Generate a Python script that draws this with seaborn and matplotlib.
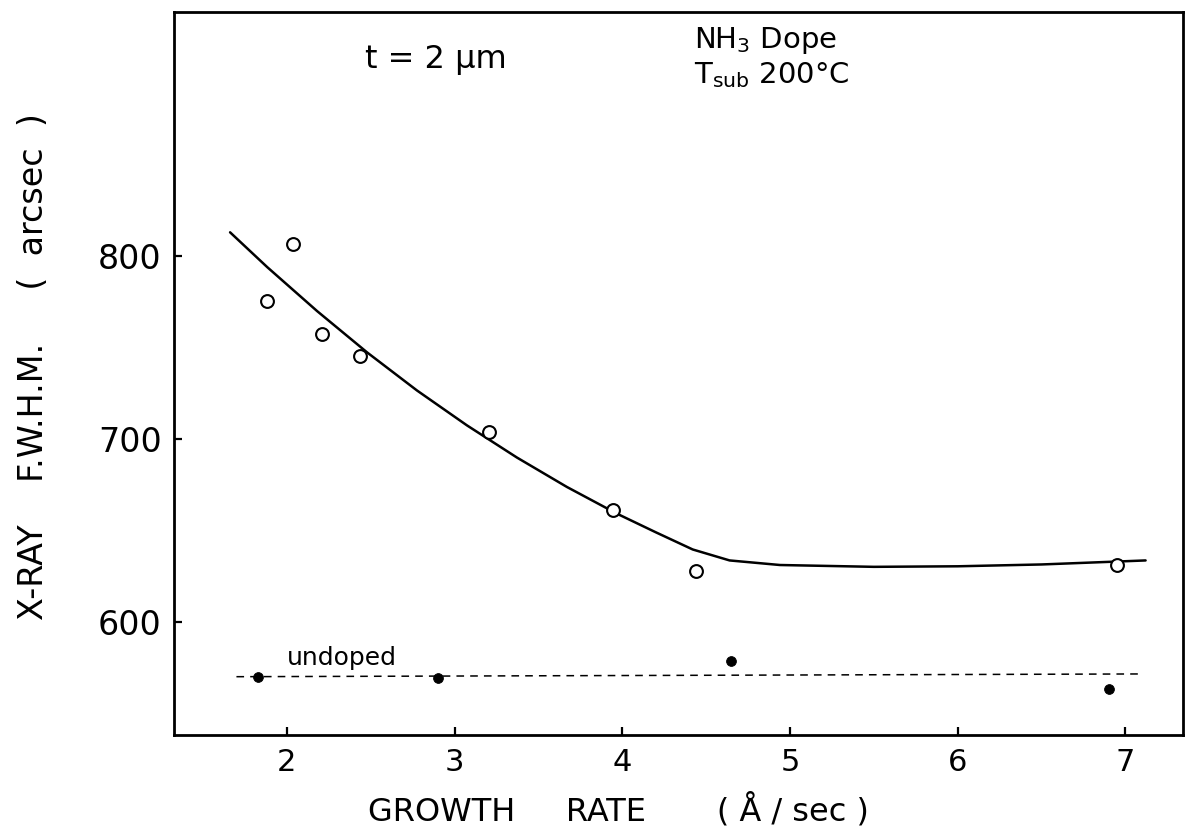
import matplotlib
matplotlib.use("Agg")
import matplotlib.pyplot as plt
import seaborn as sns
import pandas as pd

# NH3-doped films: X-ray rocking-curve FWHM vs growth rate
doped_rate = [1.884, 2.039, 2.209, 2.437, 3.207, 3.946, 4.437, 6.95]
doped_fwhm = [775.6, 806.5, 757.4, 745.5, 703.6, 661.1, 627.7, 631.0]

# hand-drawn trend curve through the doped data
trend_rate = [1.662, 1.883, 2.181, 2.479, 2.776, 3.074, 3.372, 3.670,
              3.968, 4.200, 4.420, 4.640, 4.940, 5.5, 6.0, 6.5, 7.12]
trend_fwhm = [813.0, 794.0, 769.9, 747.3, 726.5, 707.4, 689.8, 673.7,
              659.1, 648.9, 639.5, 633.5, 631.0, 630.0, 630.3, 631.3, 633.5]

# undoped reference films
undoped_rate = [1.831, 2.904, 4.650, 6.902]
undoped_fwhm = [569.9, 569.0, 578.5, 563.2]
undoped_level_rate = [1.70, 7.08]
undoped_level_fwhm = [569.9, 571.4]

x_ticks = [2, 3, 4, 5, 6, 7]
y_ticks = [600, 700, 800]

sns.set_theme(style="white")
plt.rcParams["font.family"] = ["DejaVu Sans"]
plt.rcParams["mathtext.default"] = "regular"

fig = plt.figure(figsize=(11.88, 8.36), dpi=100)
ax = fig.add_axes([0.1465, 0.1208, 0.8493, 0.8648])

doped = pd.DataFrame({"rate": doped_rate, "fwhm": doped_fwhm})
trend = pd.DataFrame({"rate": trend_rate, "fwhm": trend_fwhm})
undoped = pd.DataFrame({"rate": undoped_rate, "fwhm": undoped_fwhm})
level = pd.DataFrame({"rate": undoped_level_rate, "fwhm": undoped_level_fwhm})

sns.lineplot(data=trend, x="rate", y="fwhm", ax=ax, color="black",
             linewidth=1.8, sort=False)
sns.lineplot(data=level, x="rate", y="fwhm", ax=ax, color="black",
             linewidth=1.1, dashes=False, linestyle=(0, (5, 4)))
sns.scatterplot(data=doped, x="rate", y="fwhm", ax=ax, marker="o",
                s=85, facecolor="white", edgecolor="black", linewidth=1.5,
                zorder=3)
sns.scatterplot(data=undoped, x="rate", y="fwhm", ax=ax, marker="o",
                s=50, color="black", edgecolor="black", zorder=3)

ax.set_xlim(1.328, 7.343)
ax.set_ylim(538.0, 933.5)
ax.set_xticks(x_ticks)
ax.set_yticks(y_ticks)
ax.set_xticklabels([str(v) for v in x_ticks])
ax.set_yticklabels([str(v) for v in y_ticks])

for side in ["left", "right", "top", "bottom"]:
    ax.spines[side].set_visible(True)
    ax.spines[side].set_color("black")
    ax.spines[side].set_linewidth(2.0)

ax.tick_params(axis="x", direction="in", length=6, width=1.6,
               labelsize=22, pad=9, bottom=True, top=False, colors="black")
ax.tick_params(axis="y", direction="in", length=6, width=1.6,
               labelsize=24, pad=9, left=True, right=False, colors="black")

ax.set_xlabel("GROWTH     RATE       ( Å / sec )", fontsize=23, color="black")
ax.set_ylabel("X-RAY    F.W.H.M.     (  arcsec  )", fontsize=24, color="black")
ax.xaxis.set_label_coords(0.44, -0.080)
ax.yaxis.set_label_coords(-0.123, 0.51)

ax.text(0.189, 0.935, "t = 2 μm", transform=ax.transAxes, fontsize=23,
        ha="left", va="center", color="black")
ax.text(0.515, 0.961, "NH$_3$ Dope", transform=ax.transAxes, fontsize=21,
        ha="left", va="center", color="black")
ax.text(0.515, 0.913, "T$_{sub}$ 200°C", transform=ax.transAxes, fontsize=21,
        ha="left", va="center", color="black")
ax.text(0.112, 0.097, "undoped", transform=ax.transAxes, fontsize=18,
        ha="left", va="baseline", color="black")

fig.savefig("out.png", dpi=100)
